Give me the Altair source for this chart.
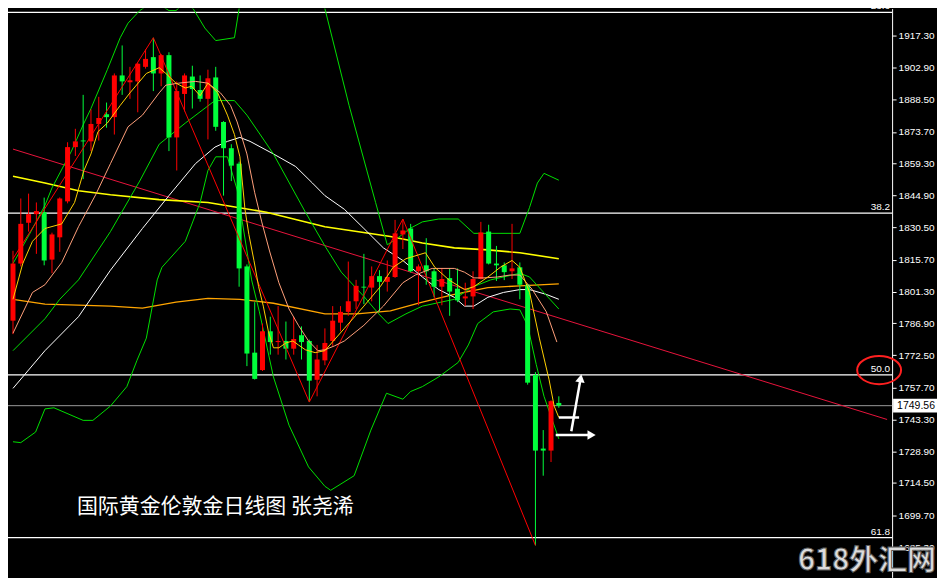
import altair as alt
import pandas as pd

W, H = 886, 570

# ---------------- candles (daily gold) ----------------
opens = [1788.1, 1814.0, 1832.5, 1836.4, 1837.3, 1815.8, 1825.9, 1842.2, 1866.8, 1869.8,
         1869.4, 1877.3, 1881.7, 1880.4, 1899.3, 1896.2, 1896.6, 1903.2, 1907.6, 1900.2,
         1908.5, 1871.2, 1890.9, 1898.8, 1892.7, 1888.7, 1898.4, 1878.2, 1866.3, 1859.3,
         1812.7, 1773.6, 1765.7, 1783.3, 1778.4, 1778.9, 1775.4, 1781.5, 1778.9, 1761.3,
         1770.1, 1778.9, 1787.2, 1792.1, 1796.9, 1803.5, 1803.1, 1808.3, 1805.7, 1807.9,
         1827.2, 1829.9, 1810.5, 1813.2, 1810.5, 1803.5, 1807.4, 1802.6, 1798.2, 1799.1,
         1807.0, 1828.5, 1814.0, 1813.2, 1810.5, 1812.3, 1804.4, 1763.5, 1730.1, 1729.2,
         1750.8]
highs = [1819.8, 1843.5, 1845.7, 1841.7, 1843.9, 1828.0, 1844.0, 1869.0, 1875.1, 1890.5,
         1883.9, 1889.6, 1887.0, 1900.2, 1912.9, 1903.2, 1905.0, 1911.1, 1916.4, 1909.0,
         1909.8, 1896.6, 1900.2, 1903.7, 1899.3, 1901.9, 1903.2, 1878.6, 1868.1, 1860.2,
         1813.6, 1796.5, 1786.8, 1789.9, 1794.7, 1787.7, 1789.9, 1785.5, 1779.5, 1777.1,
         1784.6, 1794.7, 1794.7, 1814.9, 1806.6, 1818.4, 1812.7, 1811.0, 1815.4, 1833.8,
         1834.2, 1832.0, 1813.6, 1825.5, 1811.8, 1811.8, 1811.8, 1811.8, 1805.3, 1810.5,
         1832.9, 1831.6, 1822.0, 1814.5, 1832.0, 1814.5, 1804.8, 1764.8, 1738.5, 1752.0,
         1753.8]
lows = [1782.0, 1812.7, 1828.5, 1818.4, 1813.2, 1809.6, 1819.3, 1841.3, 1862.8, 1852.3,
        1865.0, 1869.8, 1875.6, 1872.5, 1890.5, 1888.7, 1882.6, 1902.4, 1892.2, 1894.4,
        1865.0, 1856.2, 1883.0, 1884.3, 1887.4, 1870.3, 1874.2, 1844.8, 1851.4, 1803.5,
        1767.5, 1761.4, 1765.3, 1772.7, 1772.7, 1770.5, 1772.7, 1770.5, 1751.2, 1753.8,
        1767.9, 1776.7, 1783.3, 1790.3, 1793.4, 1795.6, 1796.9, 1792.1, 1801.3, 1807.5,
        1820.6, 1810.0, 1795.1, 1804.4, 1798.7, 1795.1, 1790.3, 1796.5, 1794.7, 1793.4,
        1806.8, 1813.6, 1806.1, 1806.5, 1807.0, 1797.8, 1759.1, 1686.2, 1717.8, 1724.0,
        1748.6]
closes = [1814.0, 1832.0, 1836.4, 1837.8, 1815.4, 1827.2, 1843.5, 1866.8, 1869.4, 1869.4,
          1877.3, 1880.0, 1880.4, 1899.3, 1896.6, 1897.1, 1904.6, 1906.8, 1900.2, 1908.5,
          1871.2, 1892.2, 1899.3, 1893.1, 1888.7, 1898.0, 1876.0, 1866.3, 1858.4, 1811.8,
          1773.2, 1761.7, 1783.3, 1778.4, 1778.9, 1775.4, 1779.8, 1778.4, 1760.9, 1770.5,
          1778.0, 1788.1, 1792.1, 1796.9, 1803.9, 1803.1, 1808.3, 1805.7, 1807.9, 1827.7,
          1829.0, 1810.5, 1812.7, 1810.5, 1803.5, 1807.0, 1801.3, 1797.3, 1799.1, 1807.0,
          1828.1, 1814.0, 1813.2, 1810.1, 1811.8, 1804.4, 1760.0, 1729.2, 1729.2, 1751.6,
          1749.56]

# ---------------- indicator lines (bar index, price) ----------------
fast_i = [0, 1.25, 2.5, 4.1, 6.25, 7.9, 9.1, 10, 10.9, 12.1, 13.75, 15, 17.1, 18.75, 19.6,
          20.9, 22.1, 22.9, 24, 25, 26.25, 27.5, 28.4, 29.1, 29.75, 30.25, 30.9, 31.5, 32.1,
          32.75, 33.4, 34.1, 35, 35.9, 36.6, 37.5, 38.75, 40, 42.5, 45, 47.1, 48.75, 50.4,
          52.9, 54.1, 55.9, 57.9, 59.1, 60.9, 62.5, 64, 65, 66.25, 67.5, 68.75, 69.4, 70]
fast_p = [1797.8, 1814.0, 1824.1, 1829.9, 1832.0, 1841.7, 1856.2, 1863.7, 1873.8, 1877.7,
          1885.7, 1891.4, 1900.2, 1902.8, 1900.2, 1895.8, 1893.6, 1894.4, 1890.1, 1895.8,
          1891.4, 1881.3, 1872.5, 1862.4, 1838.6, 1827.2, 1815.4, 1803.5, 1794.7, 1783.3,
          1775.8, 1775.8, 1778.0, 1778.9, 1777.1, 1774.9, 1773.6, 1774.5, 1784.6, 1794.7,
          1803.5, 1812.3, 1816.2, 1818.9, 1812.3, 1806.6, 1802.2, 1803.5, 1807.9, 1812.3,
          1815.4, 1812.3, 1800.9, 1780.2, 1761.3, 1749.4, 1744.2]

mid_i = [0, 2.5, 4.1, 6.25, 8.4, 10.6, 12.5, 14.75, 16.6, 18.75, 19.6, 21.25, 23.4, 25, 26.6,
         27.9, 28.75, 30, 31, 31.9, 32.9, 34.1, 35.4, 36.6, 37.9, 39.1, 40, 41.25, 42.5, 45,
         47.5, 50, 51.6, 53.75, 56.6, 57.9, 59.1, 60.4, 62.1, 63.75, 65, 66.6, 68.4, 69.75]
mid_p = [1782.4, 1800.9, 1804.4, 1814.5, 1830.7, 1845.2, 1859.3, 1876.0, 1881.3, 1891.4,
         1894.9, 1895.8, 1896.6, 1895.8, 1891.4, 1885.7, 1878.2, 1863.7, 1846.1, 1832.9,
         1819.7, 1805.3, 1793.4, 1786.0, 1778.9, 1774.5, 1774.9, 1776.7, 1778.9, 1786.0,
         1794.7, 1805.3, 1808.8, 1811.8, 1811.8, 1810.1, 1807.5, 1807.5, 1807.9, 1808.8,
         1808.8, 1802.2, 1792.1, 1778.4]

white_i = [0, 4.1, 8.4, 12.5, 16.6, 20, 23.4, 25.9, 27.5, 29.1, 30.4, 33.4, 36.25, 38.4, 40,
           42.5, 45, 47.5, 50, 52.5, 54.6, 56.6, 57.9, 59.1, 60.9, 62.9, 65, 66.25, 68.4, 70]
white_p = [1757.4, 1774.5, 1789.9, 1811.0, 1829.9, 1844.8, 1859.3, 1866.8, 1869.4, 1871.2,
           1869.4, 1863.7, 1858.0, 1850.5, 1844.8, 1838.6, 1829.9, 1821.1, 1815.4, 1807.9,
           1802.2, 1798.7, 1794.7, 1794.7, 1798.7, 1800.9, 1802.2, 1802.2, 1800.0, 1797.8]

orange_i = [0, 4.1, 12.5, 16.6, 20.9, 25, 29.1, 33.4, 40, 44.1, 48.4, 52.5, 56.6, 60.9, 65, 70]
orange_p = [1797.8, 1795.6, 1794.7, 1793.8, 1796.5, 1798.2, 1797.8, 1796.0, 1791.2, 1791.2,
            1792.5, 1796.5, 1800.0, 1803.1, 1803.9, 1804.8]

long_i = [0, 4.1, 8.4, 12.5, 18.75, 25, 32.5, 40, 44.1, 48.4, 52.5, 56.6, 60.9, 65, 70]
long_p = [1853.6, 1850.5, 1847.0, 1845.2, 1843.0, 1841.7, 1837.3, 1830.7, 1828.5, 1826.3,
          1823.3, 1821.1, 1820.2, 1818.9, 1816.2]

bbm_i = [0, 4.1, 6, 8.4, 12.5, 16.25, 18.75, 22.1, 25.9, 28.4, 30, 33.4, 37.5, 40, 42.1, 45,
         46.9, 48.1, 50.4, 52.5, 56.6, 58.75, 61.25, 65, 66.25, 70]
bbm_p = [1774.5, 1789.0, 1797.8, 1806.6, 1828.5, 1851.4, 1868.1, 1877.7, 1887.9, 1887.9,
         1881.3, 1863.7, 1837.3, 1822.0, 1810.1, 1799.1, 1791.2, 1786.8, 1791.2, 1794.7,
         1797.8, 1803.1, 1806.6, 1809.6, 1807.9, 1793.4]

bbl_i = [0, 1, 2.9, 4.1, 5.25, 9, 10.25, 12.5, 14.6, 15.9, 17.1, 18.5, 19.1, 22.1, 24, 25, 26,
         27.5, 28.75, 30.6, 31.6, 33.4, 35.4, 37.9, 40, 40.75, 43.75, 45.9, 47.9, 50, 51,
         52.5, 54.6, 57.1, 58.4, 59.6, 61.6, 63.75, 65, 66, 67.1, 68.1, 70]
bbl_p = [1733.2, 1732.8, 1737.6, 1748.1, 1748.6, 1742.9, 1742.9, 1749.4, 1758.2, 1770.1,
         1780.2, 1806.6, 1812.3, 1824.1, 1841.7, 1856.2, 1862.4, 1862.4, 1847.4, 1806.6,
         1792.1, 1762.6, 1740.7, 1721.8, 1713.0, 1711.2, 1717.8, 1738.5, 1755.2, 1752.5,
         1756.0, 1758.2, 1762.6, 1769.2, 1777.1, 1786.8, 1792.1, 1793.4, 1793.0, 1785.9,
         1768.3, 1753.8, 1734.5]

bbu_i = [0, 2.1, 4.1, 5, 7.5, 9, 10, 12.1, 13.75, 14.75, 16.25, 18.1, 20, 20.9, 22, 23.1,
         24.6, 26, 28.4, 29, 30.6, 35, 38.75, 40, 43.1, 46.5, 48, 49.5, 50.9, 52.5, 54.6,
         57.1, 59.1, 65, 66.25, 67.25, 68.1, 70]
bbu_p = [1814.0, 1827.2, 1840.4, 1848.3, 1865.0, 1876.9, 1884.3, 1901.9, 1916.4, 1923.0,
         1928.7, 1933.1, 1928.7, 1928.7, 1932.2, 1929.6, 1920.8, 1915.1, 1916.4, 1929.6,
         1947.2, 1956.0, 1942.8, 1929.6, 1885.7, 1841.7, 1822.5, 1826.0, 1829.9, 1832.9,
         1834.2, 1834.2, 1827.7, 1827.7, 1839.5, 1850.5, 1854.9, 1851.8]

zig_i = [0, 18, 38, 50, 67]
zig_p = [1816.2, 1916.4, 1751.2, 1834.2, 1686.2]

trend_i = [0, 112.1]
trend_p = [1865.9, 1743.3]

fib_levels = [1927.85, 1836.9, 1763.5, 1689.7]
fib_labels = ["23.6", "38.2", "50.0", "61.8"]

last_price = 1749.56
tick_vals = [1917.3, 1902.9, 1888.5, 1873.7, 1859.3, 1844.9, 1830.5, 1815.7, 1801.3,
             1786.9, 1772.5, 1757.7, 1743.3, 1728.9, 1714.5, 1699.7, 1685.3]

# hand-drawn arrows (bar index, price)
up_i, up_p = [71.6, 72.8], [1738.0, 1762.0]
right_i, right_p = [69.6, 74.2], [1736.3, 1736.3]
short_i, short_p = [70, 72.6], [1744.2, 1744.2]

title_text = "国际黄金伦敦金日线图 张尧浠"
mark_text = "618外汇网"

RED = "#FF0000"
GREEN = "#00FF3C"

xs = alt.Scale(domain=[0, 112.1], nice=False, zero=False)
ys = alt.Scale(domain=[1671.7, 1929.6], nice=False, zero=False)

AXIS = alt.Axis(orient="right", values=tick_vals, format=".2f", labelColor="white",
                labelFont="Liberation Sans", labelFontSize=10, tickColor="white",
                tickSize=4, domainColor="white", domainWidth=1, grid=False, title=None,
                labelPadding=2, labelOverlap=False)


def X(f="i"):
    return alt.X(f"{f}:Q", scale=xs, axis=None)


def Y(f="p"):
    return alt.Y(f"{f}:Q", scale=ys, axis=AXIS)


candles = pd.DataFrame({"i": list(range(len(opens))), "open": opens, "high": highs,
                        "low": lows, "close": closes})
col = alt.condition("datum.close >= datum.open", alt.value(RED), alt.value(GREEN))

wicks = alt.Chart(candles).mark_rule(strokeWidth=1).encode(
    x=X(), y=Y("low"), y2="high:Q", color=col)
bodies = alt.Chart(candles).mark_bar(size=5).encode(
    x=X(), y=Y("open"), y2="close:Q", color=col)


def line(ii, pp, color, width=1.0):
    df = pd.DataFrame({"i": ii, "p": pp})
    return alt.Chart(df).mark_line(color=color, strokeWidth=width, clip=True).encode(
        x=X(), y=Y())


fib_df = pd.DataFrame({"p": fib_levels, "lab": fib_labels})
fib_rules = alt.Chart(fib_df).mark_rule(color="white", strokeWidth=1.3).encode(y=Y())
fib_text = alt.Chart(fib_df).mark_text(color="white", align="right", baseline="bottom",
                                       dy=-1, fontSize=10, font="Liberation Sans").encode(
    x=alt.value(W - 2), y=Y(), text="lab:N")

price_df = pd.DataFrame({"p": [last_price], "lab": [f"{last_price:.2f}"]})
price_rule = alt.Chart(price_df).mark_rule(color="#9a9a9a", strokeWidth=1).encode(y=Y())
box_shape = "M-1,-0.3L1,-0.3L1,0.3L-1,0.3Z"
price_box = alt.Chart(price_df).mark_point(shape=box_shape, filled=True, color="white",
                                           size=46 * 46, opacity=1, clip=False).encode(
    x=alt.value(W + 24), y=Y())
price_lab = alt.Chart(price_df).mark_text(color="black", fontSize=10.5,
                                          font="Liberation Sans").encode(
    x=alt.value(W + 24), y=Y(), text="lab:N")

ell_df = pd.DataFrame({"p": [fib_levels[2] + 2.2]})
ellipse = alt.Chart(ell_df).mark_point(
    shape="M-1,0A1,0.64,0,1,0,1,0A1,0.64,0,1,0,-1,0Z", filled=False, color="#FF2020",
    strokeWidth=2, size=44 * 44, opacity=1).encode(x=alt.value(W - 13), y=Y())

txt_df = pd.DataFrame({"i": [8.2], "p": [1703.5], "t": [title_text]})
title = alt.Chart(txt_df).mark_text(color="white", align="left", baseline="middle",
                                    fontSize=21, font="Noto Sans CJK SC").encode(
    x=X(), y=Y(), text="t:N")

wm_df = pd.DataFrame({"p": [1679.0], "t": [mark_text]})
watermark = alt.Chart(wm_df).mark_text(color="#dcdcdc", align="right", baseline="middle",
                                       fontSize=29, fontWeight="bold",
                                       font="Noto Sans CJK SC", stroke="#5a5a5a",
                                       strokeWidth=1).encode(
    x=alt.value(W + 44), y=Y(), text="t:N")

arrow_up = line(up_i, up_p, "white", 2.5)
arrow_right = line(right_i, right_p, "white", 2.5)
arrow_short = line(short_i, short_p, "white", 2.5)
head_up = alt.Chart(pd.DataFrame({"i": [up_i[1]], "p": [up_p[1]]})).mark_point(
    shape="triangle-up", filled=True, color="white", size=90, angle=10, opacity=1).encode(
    x=X(), y=Y())
head_right = alt.Chart(pd.DataFrame({"i": [right_i[1]], "p": [right_p[1]]})).mark_point(
    shape="triangle-right", filled=True, color="white", size=90, opacity=1).encode(
    x=X(), y=Y())

chart = alt.layer(
    fib_rules, price_rule,
    line(trend_i, trend_p, "#E8143C", 1),
    line(long_i, long_p, "#FFFF00", 1.6),
    line(orange_i, orange_p, "#FFA500", 1.3),
    line(white_i, white_p, "#FFFFFF", 1),
    line(bbu_i, bbu_p, "#00E000", 1),
    line(bbm_i, bbm_p, "#00E000", 1),
    line(bbl_i, bbl_p, "#00E000", 1),
    wicks, bodies,
    line(zig_i, zig_p, "#FF0000", 1),
    line(mid_i, mid_p, "#FFA07A", 1),
    line(fast_i, fast_p, "#FFD000", 1),
    arrow_up, arrow_right, arrow_short, head_up, head_right,
    fib_text, price_box, price_lab, ellipse, title, watermark,
).properties(
    width=W, height=H,
    autosize=alt.AutoSizeParams(type="none"),
    padding={"left": 0, "top": 0, "right": 45, "bottom": 0},
    background="#000000",
).configure_view(stroke=None)

chart.save("out.html", embed_options={"renderer": "svg", "actions": False})
